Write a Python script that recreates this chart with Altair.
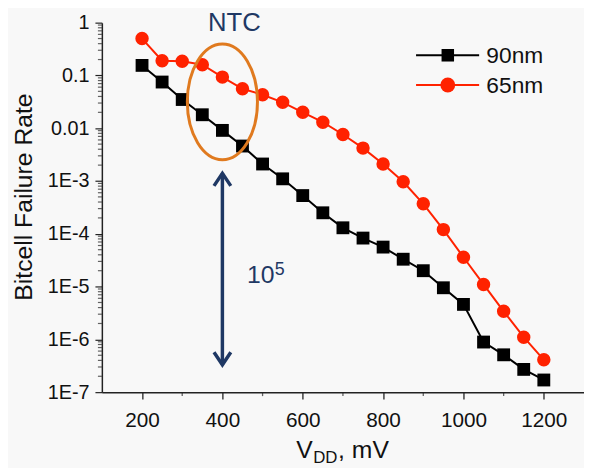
import altair as alt
import pandas as pd

FONT = "Liberation Sans"
NAVY = "#1f3864"
ORANGE = "#e07a1f"
AXIS = "#222222"

# ---- data ----
vdd = [200, 250, 300, 350, 400, 450, 500, 550, 600, 650, 700,
       750, 800, 850, 900, 950, 1000, 1050, 1100, 1150, 1200]
fail_90nm = [0.155, 0.075, 0.035, 0.018, 0.0091, 0.0046, 0.0021, 0.0011,
             5.3e-4, 2.5e-4, 1.3e-4, 8.3e-5, 5.6e-5, 3.3e-5, 2.0e-5,
             9.5e-6, 4.6e-6, 8.9e-7, 5.1e-7, 2.7e-7, 1.7e-7]
fail_65nm = [0.50, 0.19, 0.186, 0.16, 0.093, 0.056, 0.043, 0.031, 0.020,
             0.013, 0.0076, 0.0042, 0.0021, 9.7e-4, 3.7e-4, 1.2e-4, 3.6e-5,
             1.1e-5, 3.4e-6, 1.1e-6, 4.1e-7]
series_names = ["90nm", "65nm"]
series_colors = ["#000000", "#ff2200"]

x_major = [200, 400, 600, 800, 1000, 1200]
x_minor = [300, 500, 700, 900, 1100]
y_major = [1e-7, 1e-6, 1e-5, 1e-4, 1e-3, 0.01, 0.1, 1.0]
y_minor = [m * 10.0 ** e for e in range(-7, 0) for m in range(2, 10)]

# annotation anchors (data units)
ntc_pos = {"vdd": [430], "rate": [0.68], "label": ["NTC"]}
ellipse_pos = {"vdd": [400], "rate": [10 ** -1.5]}
arrow_pos = {"vdd": [400], "top": [1.4e-3], "bottom": [3.3e-7]}
ten_pos = {"vdd": [461], "rate": [10 ** -4.925], "label": ["10"]}
exp_pos = {"vdd": [530], "rate": [10 ** -4.775], "label": ["5"]}

# legend box (data units)
legend_rows = {"series": series_names, "rate": [0.241, 0.066]}
legend_x = {"start": 882, "end": 1039, "marker": 961, "label": 1057}

df = pd.DataFrame({
    "vdd": vdd + vdd,
    "rate": fail_90nm + fail_65nm,
    "series": [series_names[0]] * len(vdd) + [series_names[1]] * len(vdd),
})

x_scale = alt.Scale(type="linear", domain=[100, 1300], nice=False, zero=False)
y_scale = alt.Scale(type="log", domain=[1e-7, 1], nice=False)
col_scale = alt.Scale(domain=series_names, range=series_colors)

L = "(log(datum.value)/LN10)"
y_label = (f"round({L}) == 0 ? '1' : round({L}) == -1 ? '0.1' : "
           f"round({L}) == -2 ? '0.01' : '1E' + round({L})")

x_axis = alt.Axis(
    values=x_major, tickSize=7, format="d",
    labelFontSize=21, labelFont=FONT, labelColor="#111", labelPadding=11,
    labelFlush=False, labelOverlap=False, labelBound=False,
    tickColor=AXIS, tickWidth=1.3, domainColor=AXIS, domainWidth=1.5,
    grid=False, title=None,
)
y_axis = alt.Axis(
    values=y_major, labelExpr=y_label, tickSize=7,
    labelFontSize=20, labelFont=FONT, labelColor="#111", labelPadding=6,
    labelFlush=False, labelOverlap=False, labelBound=False,
    tickColor=AXIS, tickWidth=1.2, domainColor=AXIS, domainWidth=1.5,
    grid=False, title="Bitcell Failure Rate", titleFont=FONT, titleFontSize=25,
    titleFontWeight="normal", titleColor="#111", titleX=-71, titleY=176,
    titleBaseline="alphabetic", titleAlign="center", titleAngle=270,
)

base = alt.Chart(df)
X = alt.X("vdd:Q", scale=x_scale, axis=x_axis)
Y = alt.Y("rate:Q", scale=y_scale, axis=y_axis)

lines = base.mark_line(strokeWidth=2).encode(
    x=X, y=Y, color=alt.Color("series:N", scale=col_scale, legend=None)
)
pts90 = base.transform_filter(alt.datum.series == "90nm").mark_point(
    shape="square", filled=True, size=169, opacity=1
).encode(x="vdd:Q", y="rate:Q", color=alt.Color("series:N", scale=col_scale, legend=None))
pts65 = base.transform_filter(alt.datum.series == "65nm").mark_point(
    shape="circle", filled=True, size=185, opacity=1
).encode(x="vdd:Q", y="rate:Q", color=alt.Color("series:N", scale=col_scale, legend=None))

# minor ticks
x_minor_ticks = alt.Chart(pd.DataFrame({"vdd": x_minor})).mark_tick(
    orient="vertical", size=4, thickness=1.3, color=AXIS
).encode(x="vdd:Q", y=alt.value(376))
y_minor_ticks = alt.Chart(pd.DataFrame({"rate": y_minor})).mark_tick(
    orient="horizontal", size=4, thickness=1.2, color=AXIS
).encode(y="rate:Q", x=alt.value(-2))

# legend
leg_df = pd.DataFrame(legend_rows).assign(**{k: v for k, v in legend_x.items()})
leg_lines = alt.Chart(leg_df).mark_rule(strokeWidth=2).encode(
    x="start:Q", x2="end:Q", y="rate:Q",
    color=alt.Color("series:N", scale=col_scale, legend=None),
)
leg_sq = alt.Chart(leg_df).transform_filter(alt.datum.series == "90nm").mark_point(
    shape="square", filled=True, size=160, opacity=1
).encode(x="marker:Q", y="rate:Q", color=alt.Color("series:N", scale=col_scale, legend=None))
leg_ci = alt.Chart(leg_df).transform_filter(alt.datum.series == "65nm").mark_point(
    shape="circle", filled=True, size=225, opacity=1
).encode(x="marker:Q", y="rate:Q", color=alt.Color("series:N", scale=col_scale, legend=None))
leg_text = alt.Chart(leg_df).mark_text(
    font=FONT, fontSize=23, color="#111", align="left", baseline="middle", dy=1
).encode(x="label:Q", y="rate:Q", text="series:N")

ellipse = alt.Chart(pd.DataFrame(ellipse_pos)).mark_point(
    shape="M-1,0A1,1.65 0 1,1 1,0A1,1.65 0 1,1 -1,0Z",
    filled=False, size=5041, strokeWidth=3, color=ORANGE, opacity=1
).encode(x="vdd:Q", y="rate:Q")

arrow_df = pd.DataFrame(arrow_pos)
arrow_shaft = alt.Chart(arrow_df).mark_rule(strokeWidth=3.5, color=NAVY).encode(
    x="vdd:Q", y="top:Q", y2="bottom:Q"
)
head_top = alt.Chart(arrow_df).mark_point(
    shape="M-1,1.5L0,0L1,1.5", filled=False, size=289, strokeWidth=3.5,
    color=NAVY, opacity=1, strokeJoin="miter"
).encode(x="vdd:Q", y="top:Q")
head_bot = alt.Chart(arrow_df).mark_point(
    shape="M-1,-1.5L0,0L1,-1.5", filled=False, size=289, strokeWidth=3.5,
    color=NAVY, opacity=1, strokeJoin="miter"
).encode(x="vdd:Q", y="bottom:Q")

ntc = alt.Chart(pd.DataFrame(ntc_pos)).mark_text(
    font=FONT, fontSize=26, color=NAVY, align="center", baseline="alphabetic"
).encode(x="vdd:Q", y="rate:Q", text="label:N")
ten = alt.Chart(pd.DataFrame(ten_pos)).mark_text(
    font=FONT, fontSize=25, color=NAVY, align="left", baseline="alphabetic"
).encode(x="vdd:Q", y="rate:Q", text="label:N")
expo = alt.Chart(pd.DataFrame(exp_pos)).mark_text(
    font=FONT, fontSize=18, color=NAVY, align="left", baseline="alphabetic"
).encode(x="vdd:Q", y="rate:Q", text="label:N")

# x-axis title with subscript: V_DD, mV
xt_df = pd.DataFrame({"vdd": [584, 626, 688], "label": ["V", "DD", ", mV"],
                      "size": ["big", "small", "big"]})
xt_big = alt.Chart(xt_df).transform_filter(alt.datum.size == "big").mark_text(
    font=FONT, fontSize=25, color="#111", align="left", baseline="alphabetic"
).encode(x="vdd:Q", y=alt.value(441), text="label:N")
xt_small = alt.Chart(xt_df).transform_filter(alt.datum.size == "small").mark_text(
    font=FONT, fontSize=17, color="#111", align="left", baseline="alphabetic"
).encode(x="vdd:Q", y=alt.value(446), text="label:N")

chart = alt.layer(
    lines, pts90, pts65, x_minor_ticks, y_minor_ticks,
    leg_lines, leg_sq, leg_ci, leg_text,
    ellipse, arrow_shaft, head_top, head_bot,
    ntc, ten, expo, xt_big, xt_small
).properties(
    width=488, height=374,
    padding={"left": 95, "top": 12, "right": 0, "bottom": 80},
    autosize=alt.AutoSizeParams(type="none"),
    background="#f8f8f8",
).configure_view(stroke=None)

chart.save("out.html", embed_options={"renderer": "svg", "actions": False})
